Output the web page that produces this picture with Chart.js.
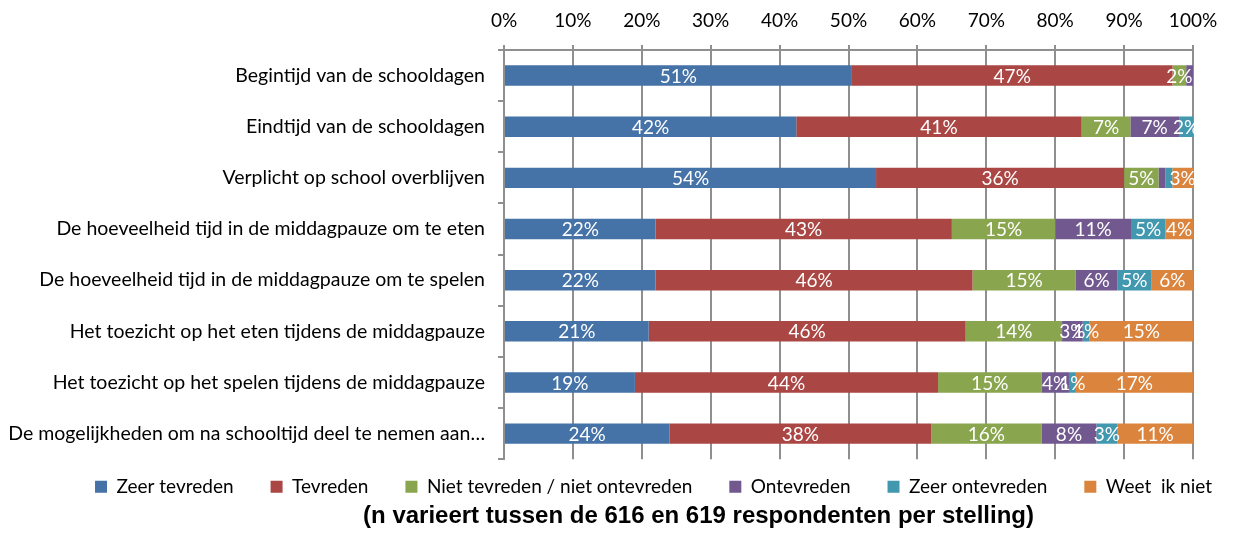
<!DOCTYPE html>
<html>
<head>
<meta charset="utf-8">
<script src="https://cdn.jsdelivr.net/npm/chart.js@4/dist/chart.umd.min.js"></script>
<style>
  html, body { margin: 0; padding: 0; background: #fff; }
  #wrap { width: 1234px; height: 533px; }
</style>
</head>
<body>
<div id="wrap"><canvas id="chart"></canvas></div>
<script>
const categories = [
  'Begintijd van de schooldagen',
  'Eindtijd van de schooldagen',
  'Verplicht op school overblijven',
  'De hoeveelheid tijd in de middagpauze om te eten',
  'De hoeveelheid tijd in de middagpauze om te spelen',
  'Het toezicht op het eten tijdens de middagpauze',
  'Het toezicht op het spelen tijdens de middagpauze',
  'De mogelijkheden om na schooltijd deel te nemen aan\u2026'
]
const seriesNames = ['Zeer tevreden', 'Tevreden', 'Niet tevreden / niet ontevreden', 'Ontevreden', 'Zeer ontevreden', 'Weet  ik niet']
const zeerTevreden = [51, 42, 54, 22, 22, 21, 19, 24]
const tevreden = [47, 41, 36, 43, 46, 46, 44, 38]
const neutraal = [2, 7, 5, 15, 15, 14, 15, 16]
const ontevreden = [1, 7, 1, 11, 6, 3, 4, 8]
const zeerOntevreden = [0, 2, 1, 5, 5, 1, 1, 3]
const weetIkNiet = [0, 0, 3, 4, 6, 15, 17, 11]
// labels Excel did not show (row, series)
const hiddenLabels = [[0, 3], [2, 3], [2, 4]]
const colors = ['#4572A7', '#AA4643', '#89A54E', '#71588F', '#4198AF', '#DB843D']
const xTicks = [0, 10, 20, 30, 40, 50, 60, 70, 80, 90, 100]

const allSeries = [zeerTevreden, tevreden, neutraal, ontevreden, zeerOntevreden, weetIkNiet]
const rowTotals = categories.map((c, i) => allSeries.reduce((s, arr) => s + arr[i], 0))

const FONT = 'Lato, "Open Sans", sans-serif'

const barLabels = {
  id: 'barLabels',
  afterDatasetsDraw(chart) {
    const ctx = chart.ctx
    ctx.save()
    ctx.fillStyle = '#fff'
    ctx.font = '19px ' + FONT
    ctx.textAlign = 'center'
    ctx.textBaseline = 'middle'
    chart.data.datasets.forEach((ds, i) => {
      chart.getDatasetMeta(i).data.forEach((bar, j) => {
        const raw = allSeries[i][j]
        if (!raw) return
        if (hiddenLabels.some(h => h[0] === j && h[1] === i)) return
        ctx.fillText(raw + '%', (bar.x + bar.base) / 2, bar.y + 1)
      })
    })
    ctx.restore()
  }
}

// legend keeps wide gaps between items but sits closer to the plot,
// legend and footnote sit a bit right of the canvas centre like in Excel
const boxShift = {
  id: 'boxShift',
  afterLayout(chart) {
    chart.legend.top -= 19
    chart.legend.left += 57
    chart.legend.right += 57
    chart.titleBlock.left += 102
    chart.titleBlock.right += 102
  }
}

new Chart(document.getElementById('chart'), {
  type: 'bar',
  data: {
    labels: categories,
    datasets: allSeries.map((arr, i) => ({
      label: seriesNames[i],
      data: arr.map((v, j) => v / rowTotals[j] * 100),
      backgroundColor: colors[i],
      borderWidth: 0,
      categoryPercentage: 1,
      barPercentage: 0.4
    }))
  },
  options: {
    indexAxis: 'y',
    responsive: true,
    maintainAspectRatio: false,
    animation: false,
    layout: { padding: { left: 0, right: 41, top: 0, bottom: 2 } },
    scales: {
      x: {
        position: 'top',
        stacked: true,
        min: 0,
        max: 100,
        afterBuildTicks: (scale) => { scale.ticks = xTicks.map(v => ({ value: v })) },
        afterFit: (scale) => { scale.height = 50 },
        ticks: {
          callback: v => v + '%',
          color: '#000',
          font: { family: FONT, size: 19 },
          padding: 13,
          maxRotation: 0
        },
        grid: { color: '#8f8f8f', lineWidth: 2, tickLength: 5, drawTicks: true },
        border: { color: '#8f8f8f', width: 2 }
      },
      y: {
        stacked: true,
        afterFit: (scale) => { scale.width = 504 },
        ticks: {
          color: '#000',
          font: { family: FONT, size: 19.5 },
          padding: 13,
          autoSkip: false
        },
        grid: { offset: true, drawOnChartArea: false, color: '#8f8f8f', lineWidth: 2, tickLength: 6 },
        border: { color: '#8f8f8f', width: 2 }
      }
    },
    plugins: {
      legend: {
        position: 'bottom',
        maxHeight: 43,
        labels: {
          color: '#000',
          font: { family: FONT, size: 19 },
          boxWidth: 12,
          boxHeight: 12,
          padding: 37
        }
      },
      title: {
        display: true,
        position: 'bottom',
        text: '(n varieert tussen de 616 en 619 respondenten per stelling)',
        color: '#000',
        font: { family: '"Liberation Sans", Arial, sans-serif', size: 24, weight: 'bold' },
        padding: { top: 0, bottom: 0 }
      },
      tooltip: { enabled: false }
    }
  },
  plugins: [barLabels, boxShift]
})
</script>
</body>
</html>
